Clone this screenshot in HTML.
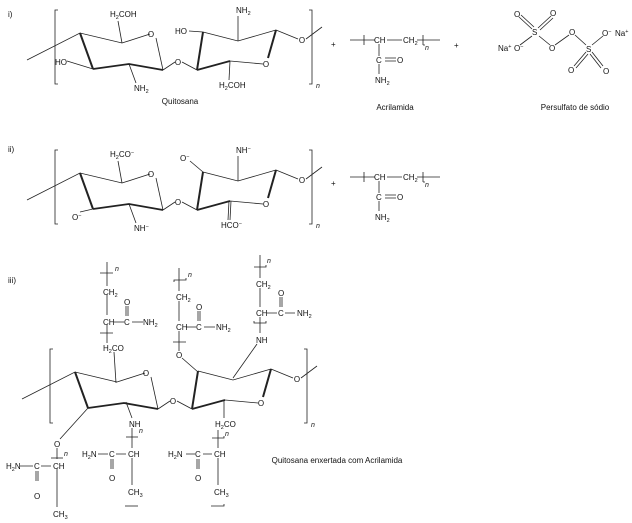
<!DOCTYPE html>
<html><head><meta charset="utf-8"><style>
html,body{margin:0;padding:0;background:#fff;}
svg{display:block;font-family:"Liberation Sans",sans-serif;}
text{font-size:8px;fill:#111;}
.s{font-size:5.5px;}
.n{font-style:italic;font-size:7px;}
</style></head><body>
<svg width="632" height="523" viewBox="0 0 632 523" xmlns="http://www.w3.org/2000/svg">
<defs>
<g id="ring" stroke="#222" stroke-width="0.8" fill="none">
<path d="M27 60 L80 33 L122 43 L150 34"/>
<path d="M156 38 L163 70"/>
<path d="M80 33 L93 69" stroke-width="2"/>
<path d="M93 69 L129 64 L163 70" stroke-width="1.8"/>
<path d="M163 70 L175 62"/>
<path d="M182 62 L197 70"/>
<path d="M197 70 L203 32" stroke-width="2"/>
<path d="M203 32 L238 41 L276 30"/>
<path d="M276 30 L268 58" stroke-width="2"/>
<path d="M263 64 L230 61"/>
<path d="M230 61 L197 70" stroke-width="1.8"/>
<path d="M276 30 L298 39"/>
<path d="M306 39 L322 27"/>
<path d="M58 10 L55 10 L55 84 L58 84"/>
<path d="M309 10 L312 10 L312 84 L309 84"/>
</g>
<g id="ringtxt">
<text x="151" y="37" text-anchor="middle">O</text>
<text x="178" y="65" text-anchor="middle">O</text>
<text x="266" y="67" text-anchor="middle">O</text>
<text x="302" y="43" text-anchor="middle">O</text>
<text x="316" y="88" class="n">n</text>
</g>
</defs>

<!-- Panel i -->
<text x="8" y="17">i)</text>
<use href="#ring"/>
<use href="#ringtxt"/>
<g stroke="#222" stroke-width="0.8" fill="none">
<path d="M122 43 L118 21"/>
<path d="M67 61 L93 69"/>
<path d="M129 64 L136 83"/>
<path d="M203 32 L189 31"/>
<path d="M238 41 L238 16"/>
<path d="M230 61 L229 80"/>
</g>
<text x="110" y="17">H<tspan class="s" dy="2">2</tspan><tspan dy="-2">COH</tspan></text>
<text x="55" y="65">HO</text>
<text x="134" y="91">NH<tspan class="s" dy="2">2</tspan></text>
<text x="175" y="34">HO</text>
<text x="236" y="13">NH<tspan class="s" dy="2">2</tspan></text>
<text x="219" y="88">H<tspan class="s" dy="2">2</tspan><tspan dy="-2">COH</tspan></text>
<text x="180" y="104" text-anchor="middle">Quitosana</text>

<!-- Acrilamida i -->
<text x="331" y="47">+</text>
<g stroke="#222" stroke-width="0.8" fill="none">
<path d="M350 40 L375 40 M387 40 L402 40 M417 40 L440 40"/>
<path d="M364 35 L364 45 M423 35 L423 45 M423 45 L425 45"/>
<path d="M379 44 L379 56 M379 64 L379 74"/>
<path d="M385 58 L396 58 M385 61 L396 61"/>
</g>
<text x="374" y="43">CH</text>
<text x="403" y="43">CH<tspan class="s" dy="2">2</tspan></text>
<text x="425" y="50" class="n">n</text>
<text x="376" y="63">C</text>
<text x="397" y="63">O</text>
<text x="375" y="83">NH<tspan class="s" dy="2">2</tspan></text>
<text x="395" y="110" text-anchor="middle">Acrilamida</text>
<text x="454" y="48">+</text>

<!-- Persulfate -->
<g stroke="#222" stroke-width="0.8" fill="none">
<path d="M519 17 L532 29 M521 15 L534 27"/>
<path d="M551 16 L538 28 M553 18 L540 30"/>
<path d="M532 36 L520 45"/>
<path d="M539 36 L550 45"/>
<path d="M555 45 L569 35"/>
<path d="M575 35 L586 45"/>
<path d="M592 45 L603 36"/>
<path d="M586 52 L574 66 M588 54 L576 68"/>
<path d="M592 52 L603 66 M590 54 L601 68"/>
</g>
<text x="532" y="35">S</text>
<text x="514" y="17">O</text>
<text x="550" y="16">O</text>
<text x="498" y="51">Na<tspan class="s" dy="-3">+</tspan></text>
<text x="514" y="51">O<tspan class="s" dy="-3">−</tspan></text>
<text x="549" y="51">O</text>
<text x="569" y="35">O</text>
<text x="586" y="52">S</text>
<text x="602" y="36">O<tspan class="s" dy="-3">−</tspan></text>
<text x="615" y="36">Na<tspan class="s" dy="-3">+</tspan></text>
<text x="568" y="73">O</text>
<text x="603" y="74">O</text>
<text x="575" y="110" text-anchor="middle">Persulfato de sódio</text>

<!-- Panel ii -->
<text x="8" y="152">ii)</text>
<g transform="translate(0,140)"><use href="#ring"/><use href="#ringtxt"/>
<g stroke="#222" stroke-width="0.8" fill="none">
<path d="M122 43 L118 21"/>
<path d="M80 72 L93 69"/>
<path d="M129 64 L136 83"/>
<path d="M203 32 L190 21"/>
<path d="M238 41 L238 16"/>
<path d="M229 61 L228 80 M231 61 L230 80"/>
</g>
<text x="110" y="17">H<tspan class="s" dy="2">2</tspan><tspan dy="-2">CO</tspan><tspan class="s" dy="-3">−</tspan></text>
<text x="72" y="80">O<tspan class="s" dy="-3">−</tspan></text>
<text x="134" y="91">NH<tspan class="s" dy="-3">−</tspan></text>
<text x="180" y="21">O<tspan class="s" dy="-3">−</tspan></text>
<text x="236" y="13">NH<tspan class="s" dy="-3">−</tspan></text>
<text x="221" y="88">HCO<tspan class="s" dy="-3">−</tspan></text>
</g>
<text x="331" y="186">+</text>
<g transform="translate(0,137)">
<g stroke="#222" stroke-width="0.8" fill="none">
<path d="M350 40 L375 40 M387 40 L402 40 M417 40 L440 40"/>
<path d="M364 35 L364 45 M423 35 L423 45 M423 45 L425 45"/>
<path d="M379 44 L379 56 M379 64 L379 74"/>
<path d="M385 58 L396 58 M385 61 L396 61"/>
</g>
<text x="374" y="43">CH</text>
<text x="403" y="43">CH<tspan class="s" dy="2">2</tspan></text>
<text x="425" y="50" class="n">n</text>
<text x="376" y="63">C</text>
<text x="397" y="63">O</text>
<text x="375" y="83">NH<tspan class="s" dy="2">2</tspan></text>
</g>

<!-- Panel iii -->
<text x="8" y="283">iii)</text>
<g transform="translate(-5,339)"><use href="#ring"/><use href="#ringtxt"/></g>
<g stroke="#222" stroke-width="0.8" fill="none">
<!-- chain 1 -->
<path d="M107 262 L107 286 M107 295 L107 315 M107 325 L107 343"/>
<path d="M100 273 L113 273 M100 333 L113 333"/>
<path d="M114 322 L124 322 M132 322 L143 322"/>
<path d="M126 306 L126 316 M128 306 L128 316"/>
<path d="M116 383 L114 352"/>
<!-- chain 2 -->
<path d="M179 268 L179 291 M179 301 L179 321 M179 331 L179 351"/>
<path d="M174 282 L174 280 L186 280 L186 278 M173 342 L186 342"/>
<path d="M186 327 L196 327 M204 327 L215 327"/>
<path d="M198 311 L198 321 M200 311 L200 321"/>
<path d="M182 358 L198 372"/>
<!-- chain 3 -->
<path d="M260 255 L260 278 M260 288 L260 307 M260 317 L260 333"/>
<path d="M254 267 L266 267 L266 265 M254 321 L254 323 L266 323 L266 321"/>
<path d="M267 313 L277 313 M285 313 L295 313"/>
<path d="M280 297 L280 307 M282 297 L282 307"/>
<path d="M257 344 L233 378"/>
<!-- bottom 1 -->
<path d="M88 408 L60 439"/>
<path d="M57 448 L57 459 M57 469 L57 507"/>
<path d="M51 458 L63 458"/>
<path d="M20 466 L33 466 M41 466 L51 466"/>
<path d="M36 471 L36 481 M38 471 L38 481"/>
<!-- bottom 2 -->
<path d="M126 402 L132 418"/>
<path d="M132 428 L132 448 M132 458 L132 485"/>
<path d="M126 437 L138 437"/>
<path d="M98 454 L108 454 M116 454 L126 454"/>
<path d="M111 459 L111 469 M113 459 L113 469"/>
<path d="M125 506 L138 506"/>
<!-- bottom 3 -->
<path d="M224 400 L224 418"/>
<path d="M218 430 L218 448 M218 458 L218 485"/>
<path d="M212 438 L224 438 L224 436"/>
<path d="M186 454 L195 454 M203 454 L212 454"/>
<path d="M197 459 L197 469 M199 459 L199 469"/>
<path d="M211 506 L224 506 L224 504"/>
</g>
<text x="115" y="271" class="n">n</text>
<text x="103" y="295">CH<tspan class="s" dy="2">2</tspan></text>
<text x="103" y="325">CH</text>
<text x="124" y="325">C</text>
<text x="124" y="305">O</text>
<text x="143" y="325">NH<tspan class="s" dy="2">2</tspan></text>
<text x="103" y="351">H<tspan class="s" dy="2">2</tspan><tspan dy="-2">CO</tspan></text>

<text x="188" y="277" class="n">n</text>
<text x="176" y="300">CH<tspan class="s" dy="2">2</tspan></text>
<text x="176" y="330">CH</text>
<text x="196" y="330">C</text>
<text x="196" y="310">O</text>
<text x="216" y="330">NH<tspan class="s" dy="2">2</tspan></text>
<text x="176" y="358">O</text>

<text x="267" y="263" class="n">n</text>
<text x="256" y="287">CH<tspan class="s" dy="2">2</tspan></text>
<text x="256" y="316">CH</text>
<text x="278" y="316">C</text>
<text x="278" y="296">O</text>
<text x="297" y="316">NH<tspan class="s" dy="2">2</tspan></text>
<text x="256" y="343">NH</text>

<text x="54" y="447">O</text>
<text x="64" y="456" class="n">n</text>
<text x="53" y="469">CH</text>
<text x="34" y="469">C</text>
<text x="6" y="469">H<tspan class="s" dy="2">2</tspan><tspan dy="-2">N</tspan></text>
<text x="34" y="499">O</text>
<text x="53" y="517">CH<tspan class="s" dy="2">3</tspan></text>

<text x="129" y="427">NH</text>
<text x="139" y="433" class="n">n</text>
<text x="128" y="457">CH</text>
<text x="109" y="457">C</text>
<text x="82" y="457">H<tspan class="s" dy="2">2</tspan><tspan dy="-2">N</tspan></text>
<text x="109" y="481">O</text>
<text x="128" y="495">CH<tspan class="s" dy="2">3</tspan></text>

<text x="215" y="427">H<tspan class="s" dy="2">2</tspan><tspan dy="-2">CO</tspan></text>
<text x="225" y="436" class="n">n</text>
<text x="214" y="457">CH</text>
<text x="195" y="457">C</text>
<text x="168" y="457">H<tspan class="s" dy="2">2</tspan><tspan dy="-2">N</tspan></text>
<text x="195" y="481">O</text>
<text x="214" y="495">CH<tspan class="s" dy="2">3</tspan></text>

<text x="337" y="463" text-anchor="middle">Quitosana enxertada com Acrilamida</text>
</svg>
</body></html>
